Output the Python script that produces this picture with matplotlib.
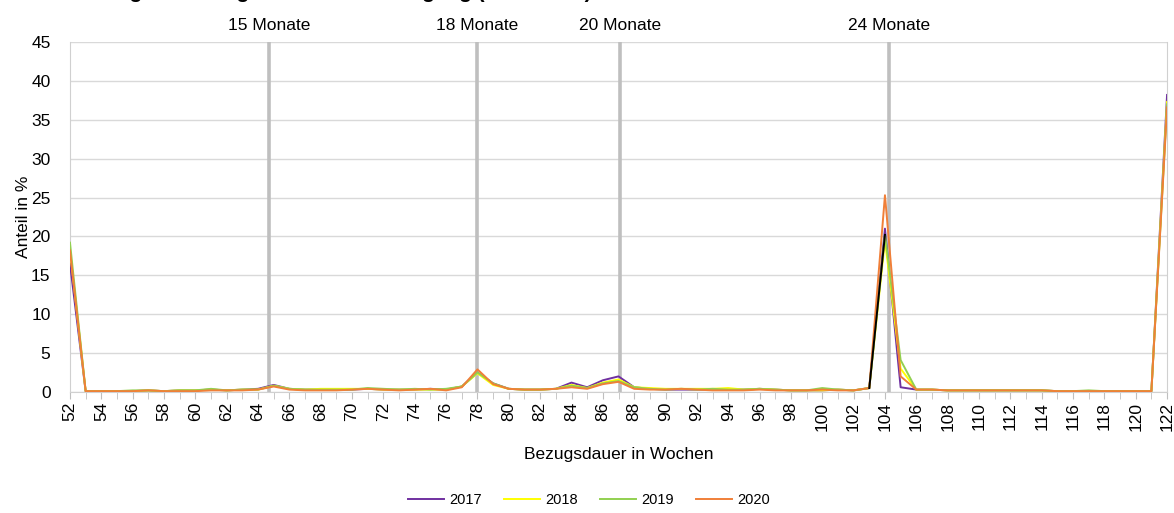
## Bezugsdauer in Wochen - Anteil je Jahrgang ##

import matplotlib
matplotlib.use('Agg')
import matplotlib.pyplot as plt
import matplotlib.transforms as mtrans

plt.rcParams['font.family'] = ['Liberation Sans', 'DejaVu Sans']

# weeks 52..122
wochen = list(range(52, 123))

# Anteil in %, rows = weeks 52-61, 62-71, ... , 112-121, 122
y2017 = [16.5, 0.1, 0.1, 0.1, 0.1, 0.2, 0.1, 0.2, 0.2, 0.3,
         0.2, 0.3, 0.4, 0.9, 0.4, 0.3, 0.3, 0.3, 0.3, 0.4,
         0.3, 0.3, 0.3, 0.4, 0.3, 0.7, 2.5, 1.1, 0.4, 0.3,
         0.3, 0.4, 1.2, 0.6, 1.5, 2.0, 0.6, 0.4, 0.3, 0.3,
         0.3, 0.3, 0.3, 0.3, 0.4, 0.3, 0.2, 0.2, 0.2, 0.3,
         0.2, 0.5, 21.0, 0.6, 0.3, 0.3, 0.2, 0.2, 0.2, 0.2,
         0.2, 0.2, 0.2, 0.1, 0.1, 0.1, 0.1, 0.1, 0.1, 0.1,
         38.2]
y2018 = [18.3, 0.1, 0.1, 0.1, 0.1, 0.2, 0.1, 0.2, 0.2, 0.3,
         0.2, 0.3, 0.3, 0.8, 0.4, 0.3, 0.4, 0.4, 0.4, 0.4,
         0.3, 0.3, 0.3, 0.3, 0.3, 0.7, 2.4, 0.9, 0.4, 0.3,
         0.3, 0.4, 0.9, 0.5, 1.2, 1.6, 0.6, 0.5, 0.4, 0.4,
         0.4, 0.4, 0.5, 0.3, 0.4, 0.3, 0.2, 0.2, 0.2, 0.3,
         0.2, 0.5, 19.5, 3.0, 0.3, 0.3, 0.2, 0.2, 0.2, 0.2,
         0.2, 0.2, 0.2, 0.1, 0.1, 0.1, 0.1, 0.1, 0.1, 0.1,
         37.3]
y2019 = [19.2, 0.1, 0.1, 0.1, 0.2, 0.2, 0.1, 0.2, 0.2, 0.4,
         0.2, 0.3, 0.3, 0.8, 0.4, 0.3, 0.3, 0.3, 0.3, 0.5,
         0.4, 0.3, 0.4, 0.3, 0.4, 0.7, 2.5, 1.1, 0.4, 0.3,
         0.3, 0.4, 0.8, 0.5, 1.1, 1.4, 0.6, 0.4, 0.3, 0.4,
         0.3, 0.4, 0.3, 0.3, 0.4, 0.3, 0.2, 0.2, 0.5, 0.3,
         0.2, 0.5, 20.2, 4.1, 0.3, 0.3, 0.2, 0.2, 0.2, 0.2,
         0.2, 0.2, 0.2, 0.1, 0.1, 0.2, 0.1, 0.1, 0.1, 0.1,
         37.0]
y2020 = [18.2, 0.1, 0.1, 0.1, 0.1, 0.2, 0.1, 0.1, 0.1, 0.2,
         0.2, 0.2, 0.3, 0.7, 0.3, 0.2, 0.2, 0.2, 0.3, 0.4,
         0.3, 0.2, 0.3, 0.4, 0.2, 0.6, 2.9, 1.0, 0.4, 0.3,
         0.3, 0.4, 0.6, 0.4, 1.0, 1.3, 0.4, 0.3, 0.3, 0.4,
         0.3, 0.2, 0.2, 0.2, 0.3, 0.2, 0.2, 0.2, 0.3, 0.2,
         0.2, 0.5, 25.3, 2.0, 0.3, 0.3, 0.2, 0.2, 0.2, 0.2,
         0.2, 0.2, 0.2, 0.1, 0.1, 0.1, 0.1, 0.1, 0.1, 0.1,
         36.6]

jahre = ['2017', '2018', '2019', '2020']
farben = ['#7030A0', '#FFFF00', '#92D050', '#F07F38']

# reference lines (weeks) and labels
marken_x = [64.7, 78, 87.1, 104.25]
marken_text = ['15 Monate', '18 Monate', '20 Monate', '24 Monate']

fs = 12.5

fig = plt.figure(figsize=(11.74, 5.13), dpi=100)
ax = fig.add_axes([0.0596, 0.236, 0.9345, 0.682])

for xm in marken_x:
    ax.axvline(xm, color='#BFBFBF', lw=2.6, zorder=1)

trans = mtrans.blended_transform_factory(ax.transData, ax.transAxes)
for xm, t in zip(marken_x, marken_text):
    ax.text(xm, 1.025, t, transform=trans, ha='center', va='bottom', fontsize=fs)

for y, jahr, c in zip([y2017, y2018, y2019, y2020], jahre, farben):
    ax.plot(wochen, y, color=c, lw=1.4, label=jahr, zorder=3)

# black segment in front of the 24-month peak
i = wochen.index(103)
ax.plot(wochen[i:i + 2], y2019[i:i + 2], color='black', lw=1.4, zorder=3)

ax.set_xlim(52, 122)
ax.set_ylim(0, 45)
ax.set_yticks(range(0, 46, 5))
ax.set_xticks(range(52, 123, 2))
ax.set_xticks(range(52, 123, 1), minor=True)
ax.tick_params(axis='x', which='both', rotation=90, length=5, color='#BFBFBF', labelsize=fs, pad=2)
ax.tick_params(axis='y', length=0, labelsize=fs, pad=14)
ax.grid(axis='y', color='#D9D9D9', lw=1)
ax.set_axisbelow(True)
ax.spines['top'].set_visible(False)
for s in ['left', 'right', 'bottom']:
    ax.spines[s].set_color('#D0D0D0')

ax.set_ylabel('Anteil in %', fontsize=fs, labelpad=0)
ax.set_xlabel('Bezugsdauer in Wochen', fontsize=fs, labelpad=12)

# title is cut off at the upper edge in the original
fig.text(0.035, 1 + 1.5 / 513, 'Verteilung der Bezugsdauer nach Jahrgang (2017-2020)',
         fontsize=15, fontweight='bold', va='baseline')

ax.legend(loc='center', bbox_to_anchor=(0.473, -0.31), ncol=4, frameon=False,
          fontsize=10.5, handlelength=2.5, columnspacing=1.5, handletextpad=0.35)

fig.savefig('out.png', dpi=100)
